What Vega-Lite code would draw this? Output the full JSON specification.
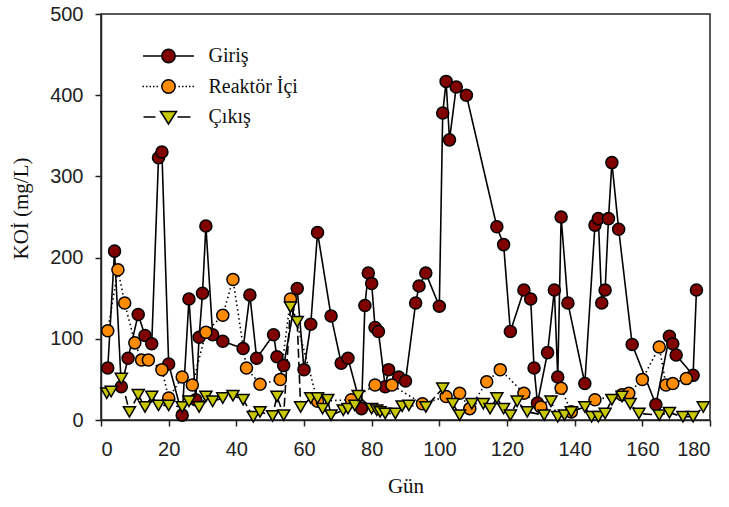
{
  "$schema": "https://vega.github.io/schema/vega-lite/v6.json",
  "width": 609,
  "height": 406,
  "autosize": {"type": "none"},
  "padding": {"left": 101, "top": 14, "right": 19, "bottom": 87},
  "background": "white",
  "config": {
    "view": {"stroke": "#222", "strokeWidth": 1.5},
    "axis": {
      "grid": false,
      "domainColor": "#222",
      "domainWidth": 1.5,
      "tickColor": "#222",
      "tickWidth": 1.5,
      "tickSize": 6,
      "labelFont": "Liberation Sans",
      "labelFontSize": 20,
      "labelColor": "#222",
      "titleFont": "Liberation Serif",
      "titleFontSize": 21,
      "titleFontWeight": "normal",
      "titleColor": "#111"
    }
  },
  "data": {
    "values": [
      {"day": 2, "series": "Giriş", "koi": 64},
      {"day": 4, "series": "Giriş", "koi": 208},
      {"day": 6, "series": "Giriş", "koi": 41},
      {"day": 8, "series": "Giriş", "koi": 76},
      {"day": 11, "series": "Giriş", "koi": 130},
      {"day": 13, "series": "Giriş", "koi": 104},
      {"day": 15, "series": "Giriş", "koi": 94},
      {"day": 17, "series": "Giriş", "koi": 323},
      {"day": 18, "series": "Giriş", "koi": 330},
      {"day": 20, "series": "Giriş", "koi": 69},
      {"day": 24, "series": "Giriş", "koi": 6},
      {"day": 26, "series": "Giriş", "koi": 149},
      {"day": 28, "series": "Giriş", "koi": 25},
      {"day": 29, "series": "Giriş", "koi": 102},
      {"day": 30, "series": "Giriş", "koi": 156},
      {"day": 31, "series": "Giriş", "koi": 239},
      {"day": 33, "series": "Giriş", "koi": 105},
      {"day": 36, "series": "Giriş", "koi": 97},
      {"day": 42, "series": "Giriş", "koi": 88},
      {"day": 44, "series": "Giriş", "koi": 154},
      {"day": 46, "series": "Giriş", "koi": 76},
      {"day": 51, "series": "Giriş", "koi": 105},
      {"day": 52, "series": "Giriş", "koi": 78},
      {"day": 54, "series": "Giriş", "koi": 67},
      {"day": 58, "series": "Giriş", "koi": 162},
      {"day": 60, "series": "Giriş", "koi": 62},
      {"day": 62, "series": "Giriş", "koi": 118},
      {"day": 64, "series": "Giriş", "koi": 231},
      {"day": 68, "series": "Giriş", "koi": 128},
      {"day": 71, "series": "Giriş", "koi": 70},
      {"day": 73, "series": "Giriş", "koi": 76},
      {"day": 77, "series": "Giriş", "koi": 14},
      {"day": 78, "series": "Giriş", "koi": 141},
      {"day": 79, "series": "Giriş", "koi": 181},
      {"day": 80, "series": "Giriş", "koi": 168},
      {"day": 81, "series": "Giriş", "koi": 114},
      {"day": 82, "series": "Giriş", "koi": 109},
      {"day": 84, "series": "Giriş", "koi": 41},
      {"day": 85, "series": "Giriş", "koi": 62},
      {"day": 88, "series": "Giriş", "koi": 53},
      {"day": 90, "series": "Giriş", "koi": 48},
      {"day": 93, "series": "Giriş", "koi": 144},
      {"day": 94, "series": "Giriş", "koi": 165},
      {"day": 96, "series": "Giriş", "koi": 181},
      {"day": 100, "series": "Giriş", "koi": 140},
      {"day": 101, "series": "Giriş", "koi": 378},
      {"day": 102, "series": "Giriş", "koi": 417},
      {"day": 103, "series": "Giriş", "koi": 345},
      {"day": 105, "series": "Giriş", "koi": 410},
      {"day": 108, "series": "Giriş", "koi": 400},
      {"day": 117, "series": "Giriş", "koi": 238},
      {"day": 119, "series": "Giriş", "koi": 216},
      {"day": 121, "series": "Giriş", "koi": 109},
      {"day": 125, "series": "Giriş", "koi": 160},
      {"day": 127, "series": "Giriş", "koi": 149},
      {"day": 128, "series": "Giriş", "koi": 64},
      {"day": 129, "series": "Giriş", "koi": 21},
      {"day": 132, "series": "Giriş", "koi": 83},
      {"day": 134, "series": "Giriş", "koi": 160},
      {"day": 135, "series": "Giriş", "koi": 53},
      {"day": 136, "series": "Giriş", "koi": 250},
      {"day": 138, "series": "Giriş", "koi": 144},
      {"day": 143, "series": "Giriş", "koi": 45},
      {"day": 146, "series": "Giriş", "koi": 240},
      {"day": 147, "series": "Giriş", "koi": 248},
      {"day": 148, "series": "Giriş", "koi": 144},
      {"day": 149, "series": "Giriş", "koi": 160},
      {"day": 150, "series": "Giriş", "koi": 248},
      {"day": 151, "series": "Giriş", "koi": 317},
      {"day": 153, "series": "Giriş", "koi": 235},
      {"day": 157, "series": "Giriş", "koi": 93},
      {"day": 164, "series": "Giriş", "koi": 19},
      {"day": 168, "series": "Giriş", "koi": 103},
      {"day": 169, "series": "Giriş", "koi": 94},
      {"day": 170, "series": "Giriş", "koi": 80},
      {"day": 175, "series": "Giriş", "koi": 55},
      {"day": 176, "series": "Giriş", "koi": 160},

      {"day": 2, "series": "Reaktör İçi", "koi": 110},
      {"day": 5, "series": "Reaktör İçi", "koi": 185},
      {"day": 7, "series": "Reaktör İçi", "koi": 144},
      {"day": 10, "series": "Reaktör İçi", "koi": 95},
      {"day": 12, "series": "Reaktör İçi", "koi": 74},
      {"day": 14, "series": "Reaktör İçi", "koi": 74},
      {"day": 18, "series": "Reaktör İçi", "koi": 62},
      {"day": 20, "series": "Reaktör İçi", "koi": 27},
      {"day": 24, "series": "Reaktör İçi", "koi": 53},
      {"day": 27, "series": "Reaktör İçi", "koi": 43},
      {"day": 31, "series": "Reaktör İçi", "koi": 108},
      {"day": 36, "series": "Reaktör İçi", "koi": 129},
      {"day": 39, "series": "Reaktör İçi", "koi": 173},
      {"day": 43, "series": "Reaktör İçi", "koi": 64},
      {"day": 47, "series": "Reaktör İçi", "koi": 44},
      {"day": 53, "series": "Reaktör İçi", "koi": 50},
      {"day": 56, "series": "Reaktör İçi", "koi": 149},
      {"day": 64, "series": "Reaktör İçi", "koi": 23},
      {"day": 74, "series": "Reaktör İçi", "koi": 25},
      {"day": 81, "series": "Reaktör İçi", "koi": 43},
      {"day": 86, "series": "Reaktör İçi", "koi": 43},
      {"day": 95, "series": "Reaktör İçi", "koi": 20},
      {"day": 102, "series": "Reaktör İçi", "koi": 29},
      {"day": 106, "series": "Reaktör İçi", "koi": 33},
      {"day": 109, "series": "Reaktör İçi", "koi": 14},
      {"day": 114, "series": "Reaktör İçi", "koi": 47},
      {"day": 118, "series": "Reaktör İçi", "koi": 62},
      {"day": 125, "series": "Reaktör İçi", "koi": 33},
      {"day": 130, "series": "Reaktör İçi", "koi": 16},
      {"day": 136, "series": "Reaktör İçi", "koi": 39},
      {"day": 139, "series": "Reaktör İçi", "koi": 10},
      {"day": 146, "series": "Reaktör İçi", "koi": 25},
      {"day": 154, "series": "Reaktör İçi", "koi": 31},
      {"day": 156, "series": "Reaktör İçi", "koi": 33},
      {"day": 160, "series": "Reaktör İçi", "koi": 50},
      {"day": 165, "series": "Reaktör İçi", "koi": 90},
      {"day": 167, "series": "Reaktör İçi", "koi": 43},
      {"day": 169, "series": "Reaktör İçi", "koi": 45},
      {"day": 173, "series": "Reaktör İçi", "koi": 51},

      {"day": 1.7, "series": "Çıkış", "koi": 33},
      {"day": 3, "series": "Çıkış", "koi": 35},
      {"day": 6, "series": "Çıkış", "koi": 51},
      {"day": 8.4, "series": "Çıkış", "koi": 10},
      {"day": 11, "series": "Çıkış", "koi": 31},
      {"day": 13, "series": "Çıkış", "koi": 16},
      {"day": 15, "series": "Çıkış", "koi": 29},
      {"day": 17, "series": "Çıkış", "koi": 18},
      {"day": 20, "series": "Çıkış", "koi": 18},
      {"day": 24, "series": "Çıkış", "koi": 16},
      {"day": 26, "series": "Çıkış", "koi": 23},
      {"day": 29, "series": "Çıkış", "koi": 16},
      {"day": 31, "series": "Çıkış", "koi": 29},
      {"day": 33, "series": "Çıkış", "koi": 23},
      {"day": 36, "series": "Çıkış", "koi": 27},
      {"day": 39, "series": "Çıkış", "koi": 30},
      {"day": 42, "series": "Çıkış", "koi": 25},
      {"day": 45, "series": "Çıkış", "koi": 4},
      {"day": 47, "series": "Çıkış", "koi": 10},
      {"day": 50.7, "series": "Çıkış", "koi": 5},
      {"day": 52, "series": "Çıkış", "koi": 29},
      {"day": 54, "series": "Çıkış", "koi": 6},
      {"day": 56, "series": "Çıkış", "koi": 139},
      {"day": 58, "series": "Çıkış", "koi": 121},
      {"day": 59, "series": "Çıkış", "koi": 16},
      {"day": 62, "series": "Çıkış", "koi": 27},
      {"day": 64, "series": "Çıkış", "koi": 27},
      {"day": 65.5, "series": "Çıkış", "koi": 14},
      {"day": 67, "series": "Çıkış", "koi": 25},
      {"day": 68, "series": "Çıkış", "koi": 6},
      {"day": 71.6, "series": "Çıkış", "koi": 12},
      {"day": 73, "series": "Çıkış", "koi": 14},
      {"day": 75, "series": "Çıkış", "koi": 18},
      {"day": 76, "series": "Çıkış", "koi": 30},
      {"day": 80, "series": "Çıkış", "koi": 14},
      {"day": 81.5, "series": "Çıkış", "koi": 12},
      {"day": 82.5, "series": "Çıkış", "koi": 10},
      {"day": 84, "series": "Çıkış", "koi": 8},
      {"day": 87, "series": "Çıkış", "koi": 8},
      {"day": 89, "series": "Çıkış", "koi": 17},
      {"day": 91, "series": "Çıkış", "koi": 18},
      {"day": 96, "series": "Çıkış", "koi": 16},
      {"day": 101, "series": "Çıkış", "koi": 39},
      {"day": 104, "series": "Çıkış", "koi": 20},
      {"day": 106, "series": "Çıkış", "koi": 6},
      {"day": 109.6, "series": "Çıkış", "koi": 20},
      {"day": 113, "series": "Çıkış", "koi": 20},
      {"day": 115, "series": "Çıkış", "koi": 14},
      {"day": 117, "series": "Çıkış", "koi": 27},
      {"day": 119, "series": "Çıkış", "koi": 14},
      {"day": 121, "series": "Çıkış", "koi": 6},
      {"day": 123, "series": "Çıkış", "koi": 23},
      {"day": 126, "series": "Çıkış", "koi": 10},
      {"day": 131, "series": "Çıkış", "koi": 6},
      {"day": 133, "series": "Çıkış", "koi": 23},
      {"day": 135, "series": "Çıkış", "koi": 4},
      {"day": 137, "series": "Çıkış", "koi": 6},
      {"day": 139, "series": "Çıkış", "koi": 10},
      {"day": 143, "series": "Çıkış", "koi": 16},
      {"day": 145, "series": "Çıkış", "koi": 4},
      {"day": 147, "series": "Çıkış", "koi": 4},
      {"day": 149, "series": "Çıkış", "koi": 8},
      {"day": 151, "series": "Çıkış", "koi": 25},
      {"day": 154, "series": "Çıkış", "koi": 29},
      {"day": 156.4, "series": "Çıkış", "koi": 20},
      {"day": 159, "series": "Çıkış", "koi": 8},
      {"day": 165, "series": "Çıkış", "koi": 6},
      {"day": 168, "series": "Çıkış", "koi": 9},
      {"day": 172, "series": "Çıkış", "koi": 4},
      {"day": 175, "series": "Çıkış", "koi": 4},
      {"day": 178, "series": "Çıkış", "koi": 16}
    ]
  },
  "encoding": {
    "x": {
      "field": "day",
      "type": "quantitative",
      "scale": {"domain": [0, 180], "nice": false, "zero": false},
      "axis": {"values": [0, 20, 40, 60, 80, 100, 120, 140, 160, 180], "title": "Gün", "labelPadding": 13, "titlePadding": 16}
    },
    "y": {
      "field": "koi",
      "type": "quantitative",
      "scale": {"domain": [0, 500], "nice": false},
      "axis": {"values": [0, 100, 200, 300, 400, 500], "title": "KOİ (mg/L)", "labelPadding": 12, "titlePadding": 18, "titleY": 194}
    }
  },
  "layer": [
    {
      "mark": {"type": "line", "stroke": "black", "strokeWidth": 1.6},
      "encoding": {
        "detail": {"field": "series"},
        "strokeDash": {
          "field": "series",
          "type": "nominal",
          "scale": {"range": [[1, 0], [1.5, 3], [9, 4]]},
          "legend": null
        }
      }
    },
    {
      "mark": {"type": "point", "filled": true, "stroke": "black", "strokeWidth": 1.5, "opacity": 1},
      "encoding": {
        "fill": {
          "field": "series",
          "type": "nominal",
          "scale": {"domain": ["Giriş", "Reaktör İçi", "Çıkış"], "range": ["#800000", "#FF8C00", "#C8C800"]},
          "legend": {
            "title": null,
            "orient": "none",
            "legendX": 56.5,
            "legendY": 31,
            "padding": 0,
            "symbolSize": 400,
            "symbolStrokeColor": "black",
            "symbolStrokeWidth": 1.5,
            "symbolOffset": 0,
            "labelFont": "Liberation Serif",
            "labelFontSize": 20,
            "labelColor": "#111",
            "labelOffset": 29,
            "rowPadding": 9.5,
            "encoding": {
              "symbols": {
                "shape": {"value": {"expr": "datum.value === 'Giriş' ? 'M-2.55,0H-0.67M0.67,0H2.55M0.67,0A0.67,0.67,0,1,1,-0.67,0A0.67,0.67,0,1,1,0.67,0Z' : datum.value === 'Reaktör İçi' ? 'M-2.6,0h0.15M-2.25,0h0.15M-1.9,0h0.15M-1.55,0h0.15M-1.2,0h0.15M1,0h0.15M1.35,0h0.15M1.7,0h0.15M2.05,0h0.15M2.4,0h0.15M0.67,0A0.67,0.67,0,1,1,-0.67,0A0.67,0.67,0,1,1,0.67,0Z' : 'M-2.5,0H-1.3M0.9,0H2.2M-0.8,-0.55L0.8,-0.55L0,0.7Z'"}}
              }
            }
          }
        },
        "shape": {
          "field": "series",
          "type": "nominal",
          "scale": {"range": ["circle", "circle", "triangle-down"]},
          "legend": null
        },
        "size": {
          "field": "series",
          "type": "nominal",
          "scale": {"range": [145, 145, 210]},
          "legend": null
        }
      }
    }
  ]
}
